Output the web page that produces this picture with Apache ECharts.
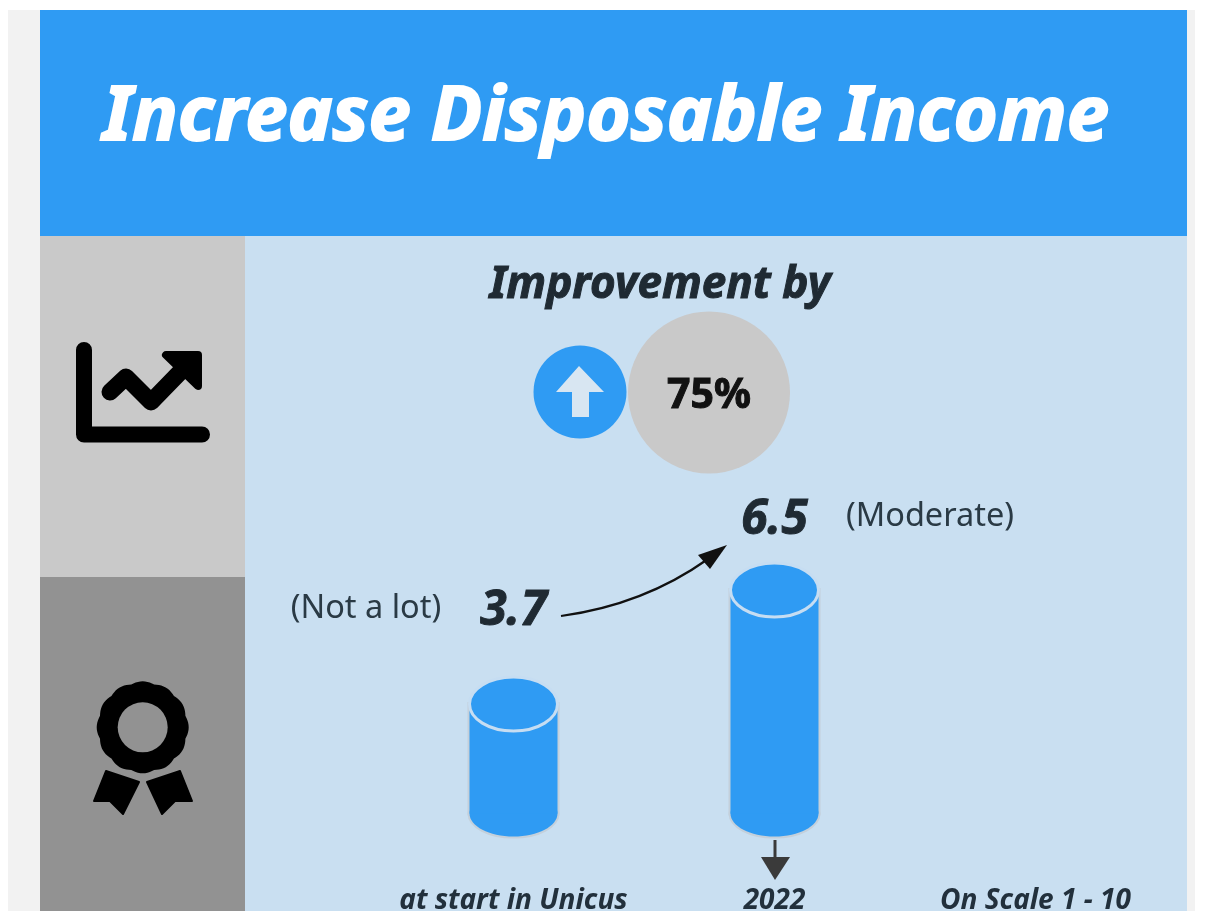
<!DOCTYPE html>
<html>
<head>
<meta charset="utf-8">
<style>html,body{margin:0;padding:0;background:#fff;overflow:hidden}#chart{width:1211px;height:911px}</style>
<script src="https://cdn.jsdelivr.net/npm/echarts@6/dist/echarts.min.js"></script>
</head>
<body>
<div id="chart"></div>
<script>
// Scores on a 1-10 scale, start versus 2022
const categories = ['at start in Unicus', '2022', 'On Scale 1 - 10'];
const scores = [3.7, 6.5];
const scoreNotes = ['(Not a lot)', '(Moderate)'];
const improvement = '75%';
const titleText = 'Increase Disposable Income';
const subtitleText = 'Improvement by';

const BLUE = '#2f9bf3', PALE = '#c9dff1', INK = '#1f2a33';
const FONT = '"Noto Sans", sans-serif';
// How far each score label sits above its cylinder
const labelRise = [66, 43];

function rect(x, y, w, h, fill) {
  return { type: 'rect', shape: { x, y, width: w, height: h }, style: { fill } };
}
// Text helper; a thin stroke of the same colour gives the heavier display weight
function label(text, x, y, size, weight, fontStyle, fill, heavy) {
  return {
    type: 'text', x, y,
    style: { text, fill, align: 'center', verticalAlign: 'middle',
      stroke: heavy ? fill : null, lineWidth: heavy || 0,
      font: `${fontStyle} ${weight} ${size}px ${FONT}` }
  };
}
function poly(points, fill, extra) {
  return { type: 'polygon', shape: { points }, style: Object.assign({ fill }, extra || {}) };
}

// Scalloped rosette outline for the award badge
function rosette(cx, cy, r, lobes) {
  const pts = [];
  for (let i = 0; i < 120; i++) {
    const a = i / 120 * Math.PI * 2;
    const rr = r - 1.8 + 1.8 * Math.abs(Math.cos(a * lobes / 2));
    pts.push([cx + rr * Math.cos(a), cy + rr * Math.sin(a)]);
  }
  return pts;
}

const round = { stroke: '#000', lineWidth: 16, lineCap: 'round', lineJoin: 'round', fill: null };
const ribbonEdge = { stroke: '#000', lineWidth: 2, lineJoin: 'round' };

const decor = [
  rect(8, 10, 1187, 901, '#f2f2f2'),
  rect(40, 10, 1147, 226, BLUE),
  rect(245, 236, 942, 675, PALE),
  rect(40, 236, 205, 341, '#c9c9c9'),
  rect(40, 577, 205, 334, '#929292'),

  label(titleText, 606, 118, 76, 700, 'italic', '#ffffff', 2),
  label(subtitleText, 660, 285, 44, 700, 'italic', INK, 1),

  // Line-chart icon
  { type: 'polyline', shape: { points: [[84, 350], [84, 434.5], [202, 434.5]] }, style: round },
  { type: 'polyline', shape: { points: [[110, 392], [126, 377], [151, 402], [187, 365]] },
    style: Object.assign({}, round, { lineWidth: 17 }) },
  poly([[166, 355], [198, 355], [198, 386]], '#000', { stroke: '#000', lineWidth: 8, lineJoin: 'round' }),

  // Award icon
  poly(rosette(142.7, 727.3, 46, 12), '#000'),
  { type: 'circle', shape: { cx: 142.7, cy: 727.3, r: 25 }, style: { fill: '#929292' } },
  poly([[106, 771], [139, 782], [123, 814], [110, 801], [94, 801]], '#000', ribbonEdge),
  poly([[180, 771], [147, 782], [162, 814], [175, 801], [192, 801]], '#000', ribbonEdge),

  // Improvement badge
  { type: 'circle', shape: { cx: 580, cy: 392, r: 46.5 }, style: { fill: BLUE } },
  poly([[579, 366], [604, 392], [589, 392], [589, 417], [572, 417], [572, 392], [556, 392]], '#d8e6f2'),
  { type: 'circle', shape: { cx: 709, cy: 392.5, r: 81 }, style: { fill: '#c9c9c9' } },
  label(improvement, 709, 396, 41, 700, 'normal', '#111111', 1),

  // Arrow from the first score to the second
  { type: 'bezierCurve',
    shape: { x1: 561, y1: 616, cpx1: 620, cpy1: 608, cpx2: 670, cpy2: 586, x2: 708, y2: 559 },
    style: { stroke: '#111', lineWidth: 2.2, fill: null } },
  poly([[727, 545], [698, 555], [710, 569]], '#111'),

  // Arrow down to the 2022 label
  { type: 'line', shape: { x1: 775, y1: 840, x2: 775, y2: 860 }, style: { stroke: '#3a3a3a', lineWidth: 3 } },
  poly([[761, 857], [790, 857], [775, 880]], '#3a3a3a'),

  label(scoreNotes[0], 366, 609, 32.5, 400, 'normal', '#2a3a45'),
  label(scoreNotes[1], 930, 517, 32.5, 400, 'normal', '#2a3a45')
];

// One cylinder per score; its rim sits at the score on the hidden value axis
function renderCylinder(params, api) {
  const i = api.value(0);
  const [cx, top] = api.coord([i, api.value(1)]);
  const base = api.coord([i, 0])[1];
  const rx = 44, ryTop = 27, ryFoot = 23;
  const cyTop = top + 27, cyFoot = base - 14;
  const halo = { fill: '#c4d0db', stroke: '#c4d0db', lineWidth: 4 };
  const body = { fill: BLUE };
  return {
    type: 'group',
    children: [
      { type: 'ellipse', shape: { cx, cy: cyFoot, rx, ry: ryFoot }, style: halo },
      { type: 'rect', shape: { x: cx - rx, y: cyTop, width: rx * 2, height: cyFoot - cyTop }, style: halo },
      { type: 'ellipse', shape: { cx, cy: cyFoot, rx, ry: ryFoot }, style: body },
      { type: 'rect', shape: { x: cx - rx, y: cyTop, width: rx * 2, height: cyFoot - cyTop }, style: body },
      { type: 'ellipse', shape: { cx, cy: cyTop, rx, ry: ryTop },
        style: { fill: BLUE, stroke: '#c6ddf2', lineWidth: 3 } },
      { type: 'text', x: cx, y: top - labelRise[params.dataIndex],
        style: { text: api.value(1).toFixed(1), fill: INK, stroke: INK, lineWidth: 1,
          align: 'center', verticalAlign: 'middle', font: `italic 700 48px ${FONT}` } }
    ]
  };
}

const chart = echarts.init(document.getElementById('chart'), null, { renderer: 'canvas' });
chart.setOption({
  backgroundColor: '#ffffff',
  animation: false,
  graphic: { elements: decor },
  grid: { left: 383, width: 783, top: 502, height: 325.6, outerBoundsMode: 'none' },
  xAxis: {
    type: 'category',
    data: categories,
    axisLine: { show: false },
    axisTick: { show: false },
    axisLabel: { margin: 59, interval: 0, fontFamily: FONT, fontSize: 28, fontWeight: 700,
      fontStyle: 'italic', color: '#22303c' }
  },
  yAxis: { type: 'value', min: 0, max: 8, show: false },
  series: [{
    type: 'custom',
    renderItem: renderCylinder,
    encode: { x: 0, y: 1 },
    data: scores.map((v, i) => [i, v]),
    clip: false
  }]
});
</script>
</body>
</html>
